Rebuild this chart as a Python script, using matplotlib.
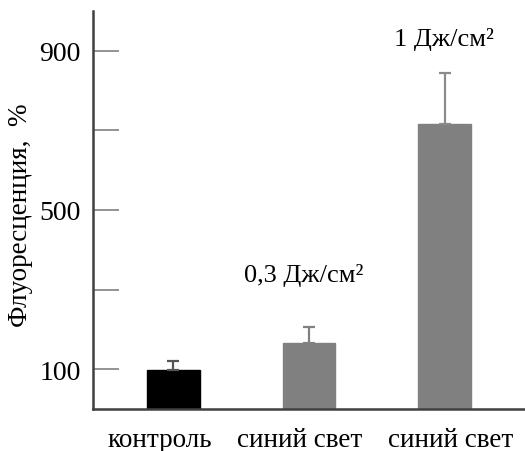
import matplotlib
matplotlib.use("Agg")
import matplotlib.pyplot as plt

categories = ["контроль", "синий свет", "синий свет"]
values = [97, 167, 715]
errors = [23, 40, 130]
annotations = ["", "0,3 Дж/см²", "1 Дж/см²"]
bar_colors = ["#000000", "#808080", "#808080"]
err_colors = ["#555555", "#808080", "#8a8a8a"]
yticks = [100, 300, 500, 700, 900]
ytick_labels = ["100", "", "500", "", "900"]

plt.rcParams['font.family'] = ['Liberation Serif', 'DejaVu Serif']

fig = plt.figure(figsize=(5.25, 4.52), dpi=100)
ax = fig.add_axes([93/525, 1 - 410/452, 1 - 93/525, (410 - 12)/452])

x = list(range(len(categories)))
for i in x:
    ax.bar(i, values[i], width=0.39, color=bar_colors[i], edgecolor=bar_colors[i], zorder=2)
    ax.errorbar(i, values[i], yerr=[[0], [errors[i]]], fmt='none', ecolor=err_colors[i],
                elinewidth=1.6, capsize=4.5, capthick=1.6, zorder=3)

ax.set_xlim(-0.59, 2.59)
ax.set_ylim(0, 1000)

ax.set_yticks(yticks)
ax.set_yticklabels(ytick_labels, fontsize=20)
ax.tick_params(axis='y', direction='in', length=19, width=1.3, color='#8a8a8a', pad=9)

label_offsets = [-0.1, -0.07, 0.04]
ax.set_xticks([i + o for i, o in zip(x, label_offsets)])
ax.set_xticklabels(categories, fontsize=19.5)
ax.tick_params(axis='x', length=0, pad=13)

for s in ['top', 'right']:
    ax.spines[s].set_visible(False)
for s in ['left', 'bottom']:
    ax.spines[s].set_color('#404040')
    ax.spines[s].set_linewidth(1.8)

# annotation texts above the blue-light bars
ax.text(1 - 0.04, 337, annotations[1], fontsize=19, ha='center', va='center')
ax.text(2 - 0.01, 932, annotations[2], fontsize=19, ha='center', va='center')

ax.set_ylabel("Флуоресценция,  %", fontsize=19.5)
ax.yaxis.set_label_coords(-0.14, 0.49)

fig.savefig("out.png", dpi=100)
